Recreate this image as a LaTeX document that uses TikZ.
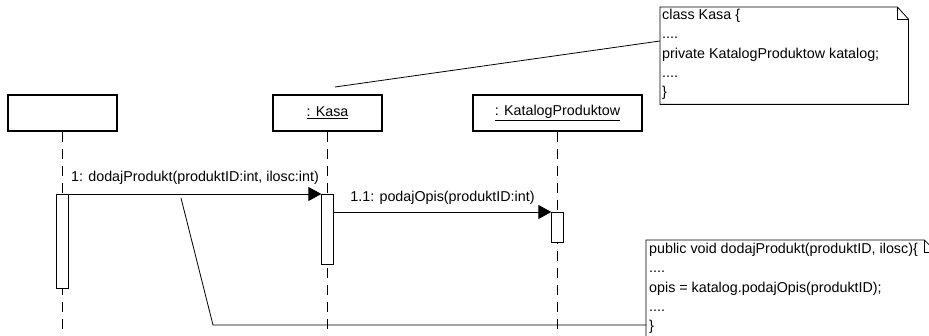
\documentclass[tikz,border=0pt]{standalone}
\usepackage{fontspec}
\setmainfont{Liberation Sans}
\usetikzlibrary{arrows.meta,positioning}

\newcommand\umlfont{\fontsize{14.3}{19.3}\selectfont}

\begin{document}
\begin{tikzpicture}[x=1pt, y=-1pt, line join=miter,
  objbox/.style={draw, line width=1.8pt, inner sep=0pt, minimum height=36pt, font=\umlfont},
  actbox/.style={draw, fill=white, line width=0.8pt, inner sep=0pt, minimum width=11.5pt, anchor=north},
  lifeline/.style={line width=0.8pt, dash pattern=on 10pt off 7pt},
  msg/.style={line width=0.8pt, -{Triangle[length=13pt, width=14pt]}},
  msglabel/.style={font=\umlfont, inner sep=0pt},
  notebox/.style={inner sep=0pt, anchor=north west},
  notetext/.style={anchor=north west, align=left, inner sep=0pt, font=\umlfont},
  noteline/.style={line width=0.8pt}
]

  % canvas
  \path[use as bounding box] (0,0) rectangle (929,336);
  \coordinate (bottom) at (0,340);

  % objects
  \node[objbox, minimum width=109pt] (client)  at (62.5,113) {};
  \node[objbox, minimum width=109pt] (kasa)    at (327.5,113) {\underline{: Kasa}};
  \node[objbox, minimum width=169pt] (katalog) at (557.5,113) {\underline{: KatalogProduktow}};

  % lifelines
  \draw[lifeline] (client.south)  -- (client.south |- bottom);
  \draw[lifeline] (kasa.south)    -- (kasa.south |- bottom);
  \draw[lifeline] (katalog.south) -- (katalog.south |- bottom);

  % activations
  \node[actbox, minimum height=94pt] (actClient)  at (client.south |- 0,194) {};
  \node[actbox, minimum height=70pt] (actKasa)    at (kasa.south |- 0,194) {};
  \node[actbox, minimum height=30pt] (actKatalog) at (katalog.south |- 0,212) {};

  % messages
  \draw[msg] (actClient.north east) -- (actKasa.north west)
    node[msglabel, midway, above=9pt] (dodaj) {1: dodajProdukt(produktID:int, ilosc:int)};
  \draw[msg] (actKasa.east |- actKatalog.north) -- (actKatalog.north west)
    node[msglabel, midway, above=7pt] (podaj) {1.1: podajOpis(produktID:int)};

  % note on class Kasa
  \node[notebox, minimum width=248pt, minimum height=97pt] (kasaNote) at (660,7) {};
  \draw[noteline] (kasaNote.north west) -- ([xshift=-11pt]kasaNote.north east)
    -- ([yshift=-12pt]kasaNote.north east) -- (kasaNote.south east)
    -- (kasaNote.south west) -- cycle;
  \draw[noteline] ([xshift=-11pt]kasaNote.north east) -- ([xshift=-11pt,yshift=-12pt]kasaNote.north east)
    -- ([yshift=-12pt]kasaNote.north east);
  \node[notetext] (kasaCode) at ([xshift=2pt,yshift=-2pt]kasaNote.north west)
    {class Kasa \{\\....\\private KatalogProduktow katalog;\\....\\\}};

  % note on dodajProdukt
  \node[notebox, minimum width=290pt, minimum height=110pt] (opisNote) at (646,240) {};
  \draw[noteline] (opisNote.north west) -- ([xshift=-12pt]opisNote.north east)
    -- ([yshift=-12pt]opisNote.north east) -- (opisNote.south east)
    -- (opisNote.south west) -- cycle;
  \draw[noteline] ([xshift=-12pt]opisNote.north east) -- ([xshift=-12pt,yshift=-12pt]opisNote.north east)
    -- ([yshift=-12pt]opisNote.north east);
  \node[notetext] (opisCode) at ([xshift=3pt,yshift=-3pt]opisNote.north west)
    {public void dodajProdukt(produktID, ilosc)\{\\....\\opis = katalog.podajOpis(produktID);\\....\\\}};

  % note anchors
  \coordinate (kasaTip) at (335,87);
  \draw[noteline] (kasaTip) -- ([yshift=-34pt]kasaNote.north west);
  \coordinate (callTip)  at (181,198);
  \coordinate (callBend) at (213,325);
  \draw[noteline] (callTip) -- (callBend) -- (callBend -| opisNote.west);
\end{tikzpicture}
\end{document}
